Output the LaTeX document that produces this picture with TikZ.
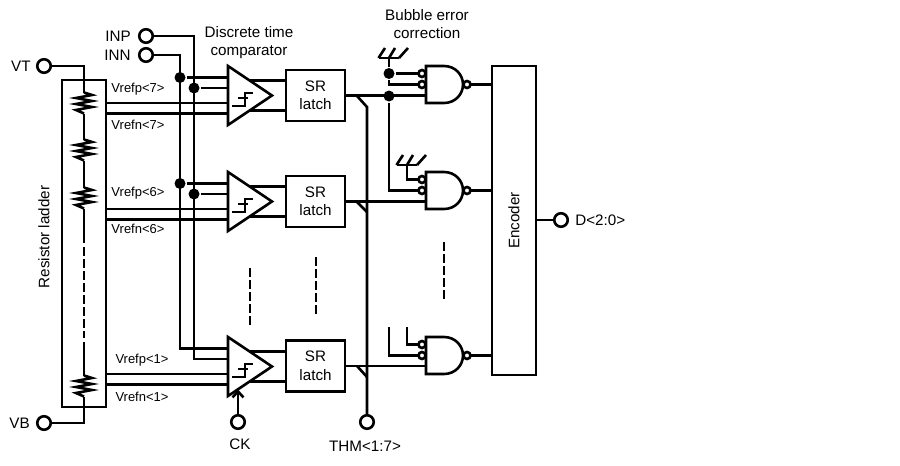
\documentclass[tikz,border=0pt]{standalone}
\usepackage{fontspec}
\setmainfont{Liberation Sans}
\usetikzlibrary{calc}
\usetikzlibrary{arrows.meta}
\newcommand{\bigtext}{\fontsize{15.2}{18.5}\selectfont}
\newcommand{\smalltext}{\fontsize{13}{15}\selectfont}
\tikzset{
  pad/.style={draw,circle,fill=white,inner sep=0pt,minimum size=13.5pt},
  dot/.style={fill,circle,inner sep=0pt,minimum size=11pt},
  block/.style={draw,rectangle,inner sep=0pt,align=center,font=\bigtext},
  lbl/.style={inner sep=0pt,align=center,font=\bigtext},
  rail/.style={inner sep=0pt,font=\smalltext},
  gap/.style={dash pattern=on 8.5pt off 3.5pt},
}
\tikzset{comparator/.pic={
  \draw (0,-29.5) -- (44,0) -- (0,29.5) -- cycle;
  % Hysteresis mark
  \draw (4,10.5) -- (17,10.5) -- (17,-2.5) -- (25,-2.5);
  \draw (10,2.5) -- (20,2.5);
  \path (0,-18) coordinate (-in1)
    (0,-7.5) coordinate (-in2)
    (0,7.5) coordinate (-in3)
    (0,18) coordinate (-in4)
    (21.6,-15) coordinate (-out1)
    (21.6,15) coordinate (-out2)
    (10,23) coordinate (-ck);
}}
\tikzset{nand/.pic={
  \draw (18,-18.5) -- (0,-18.5) -- (0,18.5) -- (18,18.5)
    .. controls (29,18.5) and (37,10) .. (37,0)
    .. controls (37,-10) and (29,-18.5) .. (18,-18.5) -- cycle;
  \draw (-4,-11) circle (3.5);
  \draw (-4,0) circle (3.5);
  \draw (41,0) circle (3.5);
  \path (-8,-11) coordinate (-in1)
    (-8,0) coordinate (-in2)
    (0,12) coordinate (-in3)
    (45,0) coordinate (-out);
}}
\tikzset{tie/.pic={
  \draw (-10.5,0) -- (10,0);
  \draw (-10.5,0) -- (-4,-10);
  \draw (0,0) -- (6,-10);
  \draw (10,0) -- (19,-10);
  \coordinate (-o) at (0,0);
}}
\tikzset{resistor/.pic={
  \draw (0,-10.5) -- (8,-8) -- (-8,-5) -- (8,-2) -- (-8,1) -- (8,4) -- (-8,7) -- (0,10.5);
  \path (0,-10.5) coordinate (-a) (0,10.5) coordinate (-b);
}}

\begin{document}
\begin{tikzpicture}[x=1pt,y=-1pt,line width=2.6pt]
    \useasboundingbox (0,0) rectangle (900,466);

    % Coordinates
    \path (180,348.5) coordinate (BN)
      (194,359) coordinate (BP)
      (84,243) coordinate (Rup) (84,247) coordinate (Rd1)
      (84,338) coordinate (Rd2) (84,342) coordinate (Rlo)
      (357,96) coordinate (E7) (367,107) coordinate (T7)
      (357,202) coordinate (E6) (367,212) coordinate (T6)
      (357,366) coordinate (E1) (367,377) coordinate (T1)
      (389,327) coordinate (A1) (407,327) coordinate (A2)
      (250,268) coordinate (D1a) (250,325) coordinate (D1b)
      (316,257) coordinate (D2a) (316,314) coordinate (D2b)
      (444,242) coordinate (D3a) (444,299) coordinate (D3b)
      ;

    % Blocks
    \node[block,minimum width=44pt,minimum height=327pt] (ladder) at (84,243.5) {};
    \node[block,minimum width=44pt,minimum height=309pt] (encoder) at (514,220.5) {};
    \node[block,minimum width=59pt,minimum height=51pt] (SR7) at (315.5,95.5) {SR\\latch};
    \node[block,minimum width=59pt,minimum height=51pt] (SR6) at (315.5,201.5) {SR\\latch};
    \node[block,minimum width=59pt,minimum height=51pt] (SR1) at (315.5,366) {SR\\latch};
    \pic (C7) at (228,95.5) {comparator};
    \pic (C6) at (228,201.5) {comparator};
    \pic (C1) at (228,366.5) {comparator};
    \pic (N7) at (426,84.5) {nand};
    \pic (N6) at (426,190.5) {nand};
    \pic (N1) at (426,355.5) {nand};
    \pic (G7) at (389,58) {tie};
    \pic (G6) at (407,165) {tie};
    \pic (R1) at (84,103) {resistor};
    \pic (R2) at (84,150) {resistor};
    \pic (R3) at (84,198) {resistor};
    \pic (R4) at (84,386) {resistor};

    % Terminals
    \node[pad] (VT) at (44,66) {};
    \node[pad] (VB) at (44,423) {};
    \node[pad] (INP) at (146,36) {};
    \node[pad] (INN) at (146,55) {};
    \node[pad] (CK) at (238,422) {};
    \node[pad] (THM) at (367,422) {};
    \node[pad] (D) at (561,220) {};

    % Dots
    \node[dot] (N7a) at (BN |- C7-in1) {};
    \node[dot] (P7a) at (BP |- C7-in2) {};
    \node[dot] (N6a) at (BN |- C6-in1) {};
    \node[dot] (P6a) at (BP |- C6-in2) {};
    \node[dot] (B7) at (389,73.5) {};
    \node[dot] (B7o) at (389,96) {};

    % Ladder
    \draw (VT) -| (R1-a);
    \draw (R1-b) -- (R2-a);
    \draw (R2-b) -- (R3-a);
    \draw (R3-b) -- (Rup);
    \draw[gap] (Rd1) -- (Rd2);
    \draw (Rlo) -- (R4-a);
    \draw (VB) -| (R4-b);

    % Inputs
    \draw (INN) -| (BN) -- (C1-in1);
    \draw (INP) -| (BP) -- (C1-in2);
    \draw (N7a) -- (C7-in1);
    \draw (P7a) -- (C7-in2);
    \draw (N6a) -- (C6-in1);
    \draw (P6a) -- (C6-in2);

    % Vref rails
    \draw (ladder.east |- C7-in3) -- (C7-in3);
    \draw (ladder.east |- C7-in4) -- (C7-in4);
    \draw (ladder.east |- C6-in3) -- (C6-in3);
    \draw (ladder.east |- C6-in4) -- (C6-in4);
    \draw (ladder.east |- C1-in3) -- (C1-in3);
    \draw (ladder.east |- C1-in4) -- (C1-in4);

    % Comparator to latch
    \draw (C7-out1) -- (C7-out1 -| SR7.west);
    \draw (C7-out2) -- (C7-out2 -| SR7.west);
    \draw (C6-out1) -- (C6-out1 -| SR6.west);
    \draw (C6-out2) -- (C6-out2 -| SR6.west);
    \draw (C1-out1) -- (C1-out1 -| SR1.west);
    \draw (C1-out2) -- (C1-out2 -| SR1.west);
    \draw[-{Straight Barb[width=11pt,length=6pt]}] (CK) -- (C1-ck);

    % Latch to gate
    \draw (SR7.east) -- (SR7.east -| N7-in3);
    \draw (SR6.east) -- (SR6.east -| N6-in3);
    \draw (SR1.east) -- (SR1.east -| N1-in3);
    \draw (E7) -- (T7) -- (THM);
    \draw (E6) -- (T6);
    \draw (E1) -- (T1);

    % Ties
    \draw (G7-o) -- (B7);
    \draw (B7) -- (N7-in1);
    \draw (B7) |- (N7-in2);
    \draw (B7o) |- (N6-in2);
    \draw (G6-o) |- (N6-in1);
    \draw (A1) |- (N1-in2);
    \draw (A2) |- (N1-in1);

    % Gate to encoder
    \draw (N7-out) -- (N7-out -| encoder.west);
    \draw (N6-out) -- (N6-out -| encoder.west);
    \draw (N1-out) -- (N1-out -| encoder.west);
    \draw (D) -- (D -| encoder.east);

    % Dot dot
    \draw[gap] (D1a) -- (D1b);
    \draw[gap] (D2a) -- (D2b);
    \draw[gap] (D3a) -- (D3b);

    % Labels
    \node[lbl,anchor=east] (VTl) at (VT.west) [xshift=-4pt] {VT};
    \node[lbl,anchor=east] (VBl) at (VB.west) [xshift=-5pt] {VB};
    \node[lbl,anchor=east] (INPl) at (INP.west) [xshift=-6pt] {INP};
    \node[lbl,anchor=east] (INNl) at (INN.west) [xshift=-6pt] {INN};
    \node[lbl,anchor=west] (Dl) at (D.east) [xshift=5pt] {D<2:0>};
    \node[lbl] (CKl) at (240,444) {CK};
    \node[lbl] (THMl) at (365,446) {THM<1:7>};
    \node[lbl] (DTC) at (249,42.5) {Discrete time\\comparator};
    \node[lbl] (BEC) at (427,24) {Bubble error\\correction};
    \node[lbl,rotate=90] (RL) at (44,237) {Resistor ladder};
    \node[lbl,rotate=90] (ENC) at (encoder) {Encoder};
    \node[rail] (Vp7) at (138,89) {Vrefp<7>};
    \node[rail] (Vn7) at (138,125) {Vrefn<7>};
    \node[rail] (Vp6) at (138,193) {Vrefp<6>};
    \node[rail] (Vn6) at (138,229) {Vrefn<6>};
    \node[rail] (Vp1) at (142,360) {Vrefp<1>};
    \node[rail] (Vn1) at (142,397) {Vrefn<1>};

  \end{tikzpicture}
\end{document}
